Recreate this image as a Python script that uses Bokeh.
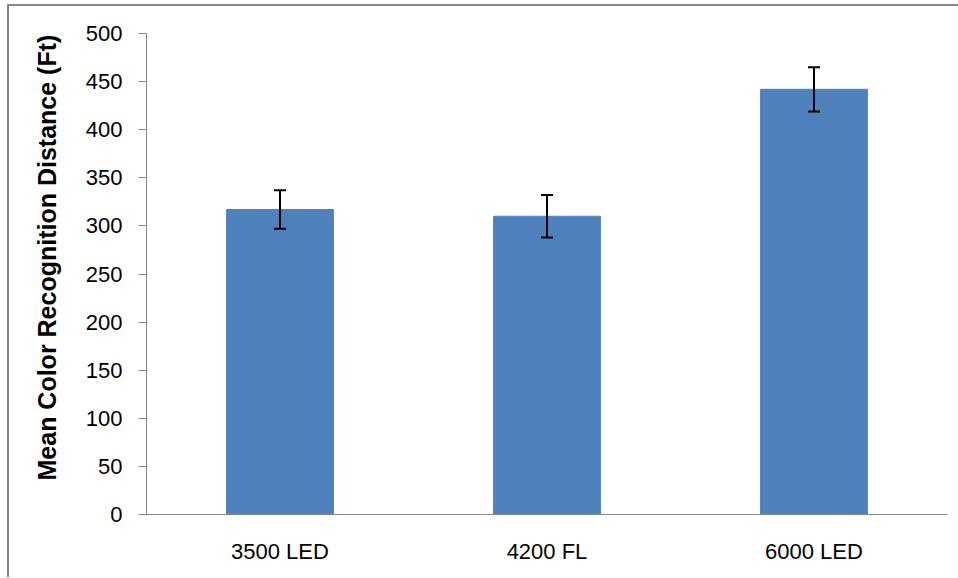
from bokeh.plotting import figure
from bokeh.models import ColumnDataSource, Whisker, TeeHead, Range1d, FixedTicker, Title
from bokeh.embed import file_html
from bokeh.resources import INLINE

categories = ["3500 LED", "4200 FL", "6000 LED"]
means = [317, 310, 442]
errors = [20, 22, 23]
y_title = "Mean Color Recognition Distance (Ft)"

lower = [m - e for m, e in zip(means, errors)]
upper = [m + e for m, e in zip(means, errors)]
source = ColumnDataSource(data=dict(cat=categories, mean=means, lower=lower, upper=upper))

p = figure(x_range=categories, y_range=Range1d(0, 500), width=951, height=573,
           output_backend="svg", toolbar_location=None,
           min_border_left=137, min_border_right=13, min_border_top=27, min_border_bottom=65)
p.styles = {"border-left": "2px solid #888888", "border-top": "2px solid #888888",
            "margin-left": "7px", "margin-top": "4px"}
p.outline_line_color = None
p.xgrid.grid_line_color = None
p.ygrid.grid_line_color = None
p.x_range.range_padding = 0

p.vbar(x="cat", top="mean", width=0.4, source=source, fill_color="#4F81BD",
       line_color="#4F81BD")

w = Whisker(source=source, base="cat", lower="lower", upper="upper",
            line_color="black", line_width=2, level="overlay",
            upper_head=TeeHead(size=12, line_color="black", line_width=2),
            lower_head=TeeHead(size=12, line_color="black", line_width=2))
p.add_layout(w)

font = "Liberation Sans"
ttl = Title(text=y_title, align="left", vertical_align="top", offset=34, standoff=40,
            text_font=font, text_font_style="bold", text_font_size="25px",
            text_color="black")
p.add_layout(ttl, "left")

p.yaxis.ticker = FixedTicker(ticks=list(range(0, 501, 50)))
p.yaxis.major_label_text_font = font
p.yaxis.major_label_text_font_size = "22px"
p.yaxis.major_label_text_color = "black"
p.yaxis.major_tick_out = 8
p.yaxis.major_tick_in = 0
p.yaxis.minor_tick_line_color = None
p.yaxis.major_label_standoff = 16
p.yaxis.axis_line_color = "#888888"
p.yaxis.major_tick_line_color = "#888888"

p.xaxis.major_label_text_font = font
p.xaxis.major_label_text_font_size = "22px"
p.xaxis.major_label_text_color = "black"
p.xaxis.major_tick_line_color = None
p.xaxis.minor_tick_line_color = None
p.xaxis.major_label_standoff = 18
p.xaxis.axis_line_color = "#888888"

open("out.html", "w").write(file_html(p, INLINE))
